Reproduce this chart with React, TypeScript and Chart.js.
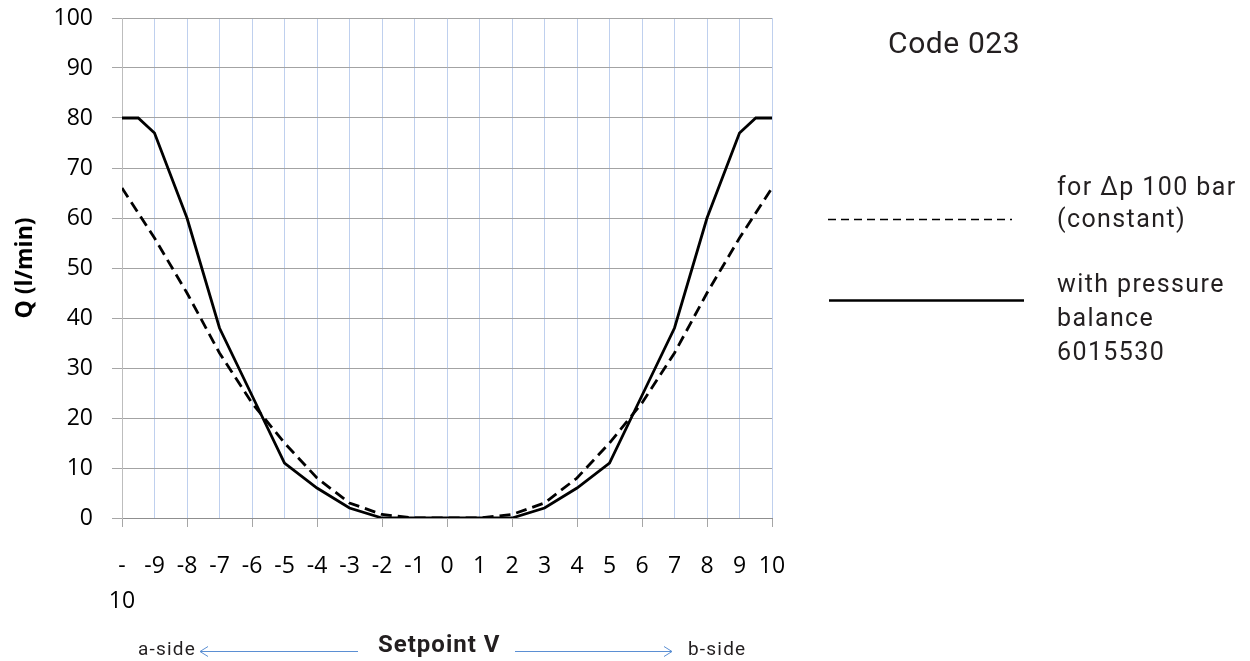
import React, { useEffect, useRef } from "react";
import { Chart, registerables } from "chart.js";

Chart.register(...registerables);

// ---- data ----
const solidSetpoint = [-10, -9.5, -9, -8, -7, -6, -5, -4, -3, -2, -1, 0, 1, 2, 3, 4, 5, 6, 7, 8, 9, 9.5, 10];
const solidQ = [80, 80, 77, 60, 38, 24.5, 11, 6, 2, 0, 0, 0, 0, 0, 2, 6, 11, 24.5, 38, 60, 77, 80, 80];

const dashedSetpoint = [-10, -9, -8, -7, -6, -5, -4, -3, -2, -1, 0, 1, 2, 3, 4, 5, 6, 7, 8, 9, 10];
const dashedQ = [66, 56, 45, 33, 23, 15, 8, 3, 0.7, 0, 0, 0, 0.7, 3, 8, 15, 23, 33, 45, 56, 66];

const xTickValues = [-10, -9, -8, -7, -6, -5, -4, -3, -2, -1, 0, 1, 2, 3, 4, 5, 6, 7, 8, 9, 10];
const xTickLabels: (string | string[])[] = [
  ["-", "10"], "-9", "-8", "-7", "-6", "-5", "-4", "-3", "-2", "-1",
  "0", "1", "2", "3", "4", "5", "6", "7", "8", "9", "10",
];

const yAxisTitle = "Q (l/min)";
const xAxisTitle = "Setpoint V";
const codeLabel = "Code 023";
const legendDashedLines = ["for \u0394p 100 bar", "(constant)"];
const legendSolidLines = ["with pressure", "balance", "6015530"];
const sideLeft = "a-side";
const sideRight = "b-side";

const annotations = {
  id: "annotations",
  afterDraw(chart: any) {
    const ctx = chart.ctx as CanvasRenderingContext2D;
    ctx.save();
    const setLS = (v: string) => {
      try { (ctx as any).letterSpacing = v; } catch (e) {}
    };
    // Code label
    ctx.fillStyle = "#231f20";
    ctx.textAlign = "left";
    ctx.textBaseline = "alphabetic";
    ctx.font = "30px Roboto";
    setLS("0.6px");
    ctx.fillText(codeLabel, 888, 53);

    // legend lines
    ctx.strokeStyle = "#000";
    ctx.lineWidth = 1.6;
    ctx.setLineDash([8, 5]);
    ctx.beginPath();
    ctx.moveTo(828, 219.5);
    ctx.lineTo(1012, 219.5);
    ctx.stroke();
    ctx.setLineDash([]);
    ctx.lineWidth = 2.4;
    ctx.beginPath();
    ctx.moveTo(829, 300.5);
    ctx.lineTo(1024, 300.5);
    ctx.stroke();

    // legend texts
    ctx.font = "25px Roboto";
    setLS("1.4px");
    ctx.fillStyle = "#231f20";
    legendDashedLines.forEach((t, i) => ctx.fillText(t, 1057, 195 + i * 32));
    legendSolidLines.forEach((t, i) => ctx.fillText(t, 1057, 292 + i * 34));

    // bottom side labels
    ctx.font = "19px Roboto";
    setLS("1.2px");
    ctx.fillStyle = "#231f20";
    ctx.fillText(sideLeft, 138, 655);
    ctx.fillText(sideRight, 688, 655);

    ctx.font = "bold 24px Roboto";
    setLS("1px");
    ctx.fillStyle = "#231f20";
    ctx.fillText(xAxisTitle, 378, 652);

    // arrows
    ctx.strokeStyle = "#5b8fd3";
    ctx.lineWidth = 1;
    ctx.beginPath();
    ctx.moveTo(200, 651.5);
    ctx.lineTo(358, 651.5);
    ctx.moveTo(208, 646.5);
    ctx.lineTo(200, 651.5);
    ctx.lineTo(208, 656.5);
    ctx.moveTo(515, 651.5);
    ctx.lineTo(672, 651.5);
    ctx.moveTo(664, 646.5);
    ctx.lineTo(672, 651.5);
    ctx.lineTo(664, 656.5);
    ctx.stroke();
    ctx.restore();
  },
};

export default function App() {
  const ref = useRef<HTMLCanvasElement>(null);
  useEffect(() => {
    document.body.style.margin = "0";
    const canvas = ref.current!;
    const chart = new Chart(canvas, {
      type: "line",
      data: {
        datasets: [
          {
            label: "with pressure balance 6015530",
            data: solidSetpoint.map((x, i) => ({ x, y: solidQ[i] })),
            borderColor: "#000",
            borderWidth: 2.8,
            pointRadius: 0,
            tension: 0,
            fill: false,
          },
          {
            label: "for \u0394p 100 bar (constant)",
            data: dashedSetpoint.map((x, i) => ({ x, y: dashedQ[i] })),
            borderColor: "#000",
            borderWidth: 2.8,
            borderDash: [11, 6],
            pointRadius: 0,
            tension: 0,
            fill: false,
          },
        ],
      },
      options: {
        responsive: false,
        animation: false,
        layout: { padding: { left: 0, top: 18, right: 478, bottom: 0 } },
        plugins: { legend: { display: false }, tooltip: { enabled: false } },
        scales: {
          x: {
            type: "linear",
            min: -10,
            max: 10,
            afterBuildTicks: (scale: any) => {
              scale.ticks = xTickValues.map((v) => ({ value: v }));
            },
            afterFit: (scale: any) => {
              scale.height = 143;
              scale.paddingLeft = 0;
              scale.paddingRight = 0;
            },
            ticks: {
              autoSkip: false,
              maxRotation: 0,
              minRotation: 0,
              padding: 22,
              color: "#000",
              font: { family: "'Open Sans'", size: 23, lineHeight: 1.52 },
              callback: (_v: any, index: number) => xTickLabels[index],
            },
            grid: {
              color: (c: any) => (c.index === 0 ? "rgba(0,0,0,0)" : "#bfd0ee"),
              lineWidth: 1,
              tickLength: 9,
              tickColor: (c: any) => (c.index % 2 === 0 ? "#a6a6a6" : "rgba(0,0,0,0)"),
            },
            border: { color: "#8f8f8f", width: 1 },
          },
          y: {
            min: 0,
            max: 100,
            afterFit: (scale: any) => {
              scale.width = 122;
              scale.paddingTop = 0;
              scale.paddingBottom = 0;
            },
            ticks: {
              stepSize: 10,
              padding: 19,
              color: "#000",
              font: { family: "'Open Sans'", size: 23 },
            },
            grid: {
              color: "#a3a3a3",
              lineWidth: 1,
              tickLength: 10,
              tickColor: "#a6a6a6",
            },
            border: { color: "#bdbdbd", width: 1 },
            title: {
              display: true,
              text: yAxisTitle,
              color: "#000",
              font: { family: "'Open Sans'", size: 23, weight: "bold" },
              padding: { top: 12, bottom: 0 },
            },
          },
        },
      },
      plugins: [annotations],
    });
    return () => chart.destroy();
  }, []);
  return <canvas ref={ref} width={1250} height={661} style={{ display: "block" }} />;
}
